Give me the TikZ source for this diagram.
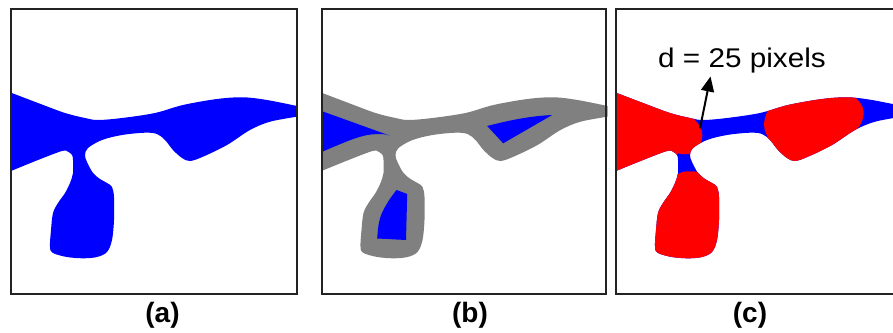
\documentclass[tikz,border=0pt]{standalone}
\usepackage{fontspec}
\setmainfont{Liberation Sans}
\usetikzlibrary{arrows.meta}
\definecolor{pblue}{RGB}{0,0,255}
\definecolor{pred}{RGB}{255,0,0}
\definecolor{pgray}{RGB}{128,128,128}
\definecolor{pframe}{RGB}{35,35,35}
\newcommand\blobpath{(11,92.7) -- plot[smooth,tension=0.55] coordinates {(11,92.7) (38,103) (65,113) (85,118) (98,120) (122,118) (155,113) (183,105) (217,99) (243,97.3) (267,100) (297,106)} -- (297,116.7) -- plot[smooth,tension=0.55] coordinates {(297,116.7) (270,121.7) (250,130) (227,145) (203,156.7) (190,161) (182,158) (173,150) (165,140) (157,134) (145,132.7) (122,135) (102,140) (88,148) (85,155) (87,162) (93,173) (100,179) (107,183) (112,187) (114,197) (114,220) (112,240) (107,252) (97,257) (83,258.3) (67,257) (53,253) (50,247) (51,230) (53,213) (58,203) (65,193) (70,183) (73,173) (73,160) (72,155) (68,151.7) (62,151) (38,160) (11,171)} -- cycle}
\tikzset{
  frame/.style={draw=pframe, line width=2pt},
  panellabel/.style={font=\bfseries\fontsize{28}{30}\selectfont, anchor=base, inner sep=0pt},
  annot/.style={font=\fontsize{27}{30}\selectfont, anchor=base, inner sep=0pt},
}
\begin{document}
\begin{tikzpicture}[x=1pt,y=-1pt]
\useasboundingbox (0,0) rectangle (893,332);
\fill[white] (0,0) rectangle (893,332);
% ---------- panel (a)
\fill[pblue] \blobpath;
\draw[frame] (11,9.3) rectangle (296.7,294);
\node[panellabel] (la) at (162.5,322.5) {(a)};
% ---------- panel (b)
\begin{scope}[shift={(310.5,0)}]
  \fill[pgray] \blobpath;
  \fill[pblue] (11,111) -- (79,135.5) -- plot[smooth,tension=0.5] coordinates {(79,135.5) (72,134) (57,135) (40,140) (11,152)} -- cycle;
  \fill[pblue] (176.7,126) .. controls (200,120) and (220,116) .. (241.7,115) -- (192.7,143.3) -- cycle;
  \fill[pblue] (86,190) -- (96.7,194) -- (95.5,240) -- (66.7,238.5) -- plot[smooth,tension=0.5] coordinates {(66.7,238.5) (68,225) (71,214) (78,201) (86,190)} -- cycle;
\end{scope}
\draw[frame] (321.6,9.3) rectangle (606.3,294);
\node[panellabel] (lb) at (470,322.5) {(b)};
% ---------- panel (c)
\begin{scope}
  \clip (0,0) rectangle (893,332);
  \begin{scope}[shift={(605,0)}]
    \fill[pblue] \blobpath;
    \begin{scope}
      \clip \blobpath;
      % left red region
      \fill[pred] (0,60) -- (80,60) -- (84,116) -- plot[smooth,tension=0.6] coordinates {(84,116) (88.3,118.3) (95,126.7) (97.3,135) (95,145) (88.3,152.7) (80,154.3) (73.3,153.3)} -- (66,160) -- (0,195) -- cycle;
      % bottom red blob
      \fill[pred] (40,177) -- plot[smooth,tension=0.6] coordinates {(66,177) (71.7,175) (78.3,171.7) (91.7,171.7) (99,174.5) (106,180)} -- (130,185) -- (130,280) -- (40,280) -- cycle;
      % right red region
      \fill[pred] plot[smooth cycle,tension=0.6] coordinates {(167,107) (161.7,113) (159,125) (161.7,135) (170,150) (178.3,159) (191.7,164) (208.3,160) (235,145) (252,129) (258,118.3) (258,108.3) (251.7,99) (241.7,95) (211.7,96) (183,101)};
    \end{scope}
  \end{scope}
  \draw[frame] (616,9.3) rectangle (905,294);
\end{scope}
\node[panellabel] (lc) at (750,322.5) {(c)};
\node[annot] (dl) at (742,67.3) {\scalebox{1.1}[1]{d = 25 pixels}};
\coordinate (arS) at (700,128.3);
\coordinate (arE) at (710.5,76.5);
\draw[line width=2pt, -{Triangle[length=15pt,width=13pt]}] (arS) -- (arE);
\end{tikzpicture}
\end{document}
